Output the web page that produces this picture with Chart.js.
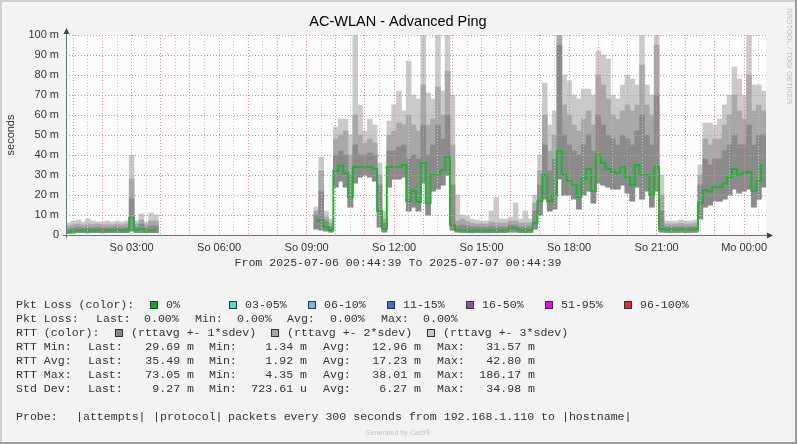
<!DOCTYPE html>
<html>
<head>
<meta charset="utf-8">
<script src="https://cdn.jsdelivr.net/npm/chart.js@4/dist/chart.umd.min.js"></script>
<style>
html,body{margin:0;padding:0;background:#f3f3f3}
canvas{display:block}
</style>
</head>
<body>
<canvas id="ping" width="797" height="444"></canvas>
<script>
// 10 minute samples, 00:50 (So) .. 00:40 (Mo), values in milliseconds
const NA = null
const rttAvg = [1.5,2.2,2.3,2.3,2.4,2.3,2.4,2.3,2.4,2.3,2.5,2.3,2.4,8.5,2.5,3.0,2.3,2.3,2.4,
  NA,NA,NA,NA,NA,NA,NA,NA,NA,NA,NA,NA,NA,NA,NA,NA,NA,NA,NA,NA,NA,NA,NA,NA,NA,NA,NA,NA,NA,NA,NA,NA,
  7,7.5,4,2.5,32,34.7,31,19,34,34,
  34,34,33,12,3,34,34,34,35,17,
  22,16.5,36,16,30,30,32.5,39,5,2.5,
  2.3,2.2,2.0,2.2,2.3,2.1,2.4,2.3,2.2,2.3,
  3.5,3.2,2.4,2.3,2.4,6,17,30,17,20,
  42,30,27,25,19,28,33,22,40,36,
  33,31.7,31,34,29,25,35,30,30,20,
  34,3,2.6,2.7,2.6,2.8,2.6,2.7,2.8,16,
  22.5,21.7,24,24,25.8,29,33,30,31,31.5,
  22,27,35]
const rttLow = [0.8,1.0,1.2,1.2,1.1,1.2,1.2,1.1,1.2,1.2,1.3,1.2,1.2,2.0,1.2,1.3,1.2,1.2,1.2,
  NA,NA,NA,NA,NA,NA,NA,NA,NA,NA,NA,NA,NA,NA,NA,NA,NA,NA,NA,NA,NA,NA,NA,NA,NA,NA,NA,NA,NA,NA,NA,NA,
  3,2.5,2,1.5,24,27,24,14,26,29,
  30,29,27,4,1.5,24,28,28,29,12,
  14,12,26,10,22,23,25,30,2.5,1.5,
  1.2,1.2,1.1,1.2,1.2,1.1,1.2,1.2,1.2,1.2,
  1.5,1.5,1.2,1.2,1.2,3,10,18,12,13,
  28,20,20,18,13,20,22,16,26,25,
  24,23,23,25,21,17,24,18,22,14,
  22,1.5,1.3,1.3,1.3,1.4,1.3,1.3,1.4,8,
  14,15,17,17,18,20,23,21,22,23,
  14,18,24]
const sdev1High = [3.0,3.5,3.8,3.6,3.8,3.6,3.8,3.5,3.6,3.7,3.8,3.6,3.8,18,4.0,5.5,4.0,4.5,4.5,
  NA,NA,NA,NA,NA,NA,NA,NA,NA,NA,NA,NA,NA,NA,NA,NA,NA,NA,NA,NA,NA,NA,NA,NA,NA,NA,NA,NA,NA,NA,NA,NA,
  10,22,7,4,40,42,40,30,45,40,
  40,41,40,25,6,42,42,44,45,38,
  40,38,55,40,45,55,48,60,25,4.5,
  5,4.5,4,4,4,3.8,4.5,4,4,4,
  5,5,4,4,4,12,25,45,32,38,
  95,50,45,42,40,45,50,42,60,55,
  50,48,45,50,48,45,52,60,50,45,
  70,12,4,4,4,4.2,4,4,4.2,25,
  38,35,38,38,42,45,50,45,45,55,
  45,50,50]
const sdev2High = [4.5,5.0,5.5,5.0,5.5,5.2,5.5,5.0,5.2,5.0,5.5,5.0,5.5,28,5.5,7.5,5.5,7,7,
  NA,NA,NA,NA,NA,NA,NA,NA,NA,NA,NA,NA,NA,NA,NA,NA,NA,NA,NA,NA,NA,NA,NA,NA,NA,NA,NA,NA,NA,NA,NA,NA,
  12,32,9,6,48,50,52,40,60,50,
  46,48,46,30,8,50,52,56,55,60,
  55,52,75,55,58,74,60,82,45,7,
  8,7,6,5.5,5.5,5.5,6.5,6,6,6,
  7,7,6,6,6,16,32,60,42,50,
  100,65,60,55,52,58,62,55,80,75,
  68,60,58,62,65,62,65,85,65,60,
  95,20,5.5,5.5,5.5,5.8,5.5,5.5,5.8,30,
  48,45,48,48,55,60,70,62,58,80,
  62,65,62]
const sdev3High = [6.0,7.0,7.5,6.5,8.0,7.0,6.5,6.5,7.0,6.5,7.0,6.5,7.0,40,7.0,10.5,6.5,11,10,
  NA,NA,NA,NA,NA,NA,NA,NA,NA,NA,NA,NA,NA,NA,NA,NA,NA,NA,NA,NA,NA,NA,NA,NA,NA,NA,NA,NA,NA,NA,NA,NA,
  14,39,12,8,54,58,58,50,100,65,
  52,58,55,36,12,57,65,72,62,87,
  70,68,100,71,68,100,72,100,70,20,
  10,9.5,8,7.5,7,7,12,19,8,8,
  9,16,8,12,8,20,40,76,55,62,
  100,80,77,70,68,73,73,70,92,90,
  88,70,68,75,80,78,75,100,75,70,
  100,30,7,7,7,7.5,7,7,7.5,35,
  56,56,55,58,65,70,84,78,70,100,
  75,75,72]

const tickTimes = ['03:00','06:00','09:00','12:00','15:00','18:00','21:00','00:00']
const tickTexts = ['So 03:00','So 06:00','So 09:00','So 12:00','So 15:00','So 18:00','So 21:00','Mo 00:00']

const lossLabels = ['0%','03-05%','06-10%','11-15%','16-50%','51-95%','96-100%']
const lossColors = ['#00b020','#50d8d0','#78b4f0','#4068e0','#9850a8','#ff00ff','#f02030']
const bandLabels = ['(rttavg +- 1*sdev)','(rttavg +- 2*sdev)','(rttavg +- 3*sdev)']
const bandColors = ['#8a8a8a','#a8a8a8','#cacaca']
const statRows = [
  ['RTT Min:','29.69 m','1.34 m','12.96 m','31.57 m'],
  ['RTT Avg:','35.49 m','1.92 m','17.23 m','42.80 m'],
  ['RTT Max:','73.05 m','4.35 m','38.01 m','186.17 m'],
  ['Std Dev:','9.27 m','723.61 u','6.27 m','34.98 m']
]

// time labels for each sample
let times = []
for(let i = 0; i < rttAvg.length; i++){
    let m = 50 + i*10
    let h = Math.floor(m/60) % 24
    times.push(String(h).padStart(2,'0') + ':' + String(m%60).padStart(2,'0'))
}

function band(high){
    return rttLow.map((l, i) => l == null ? null : [l, high[i]])
}

const sans = '"Liberation Sans", Arial, sans-serif'
const mono = '"Liberation Mono", "DejaVu Sans Mono", monospace'

const decor = {
    id: 'decor',
    beforeDraw(chart){
        let c = chart.ctx, a = chart.chartArea
        c.save()
        c.fillStyle = '#f3f3f3'
        c.fillRect(0, 0, chart.width, chart.height)
        c.fillStyle = '#fcfcfc'
        c.fillRect(a.left, a.top, a.right - a.left, a.bottom - a.top)
        c.restore()
    },
    afterDraw(chart){
        let c = chart.ctx, a = chart.chartArea
        c.save()
        // axes with arrows
        c.strokeStyle = '#5c7c74'
        c.lineWidth = 1
        c.beginPath()
        c.moveTo(a.left + 0.5, a.bottom + 3)
        c.lineTo(a.left + 0.5, a.top - 5)
        c.moveTo(a.left - 3, a.bottom + 0.5)
        c.lineTo(a.right + 5, a.bottom + 0.5)
        c.stroke()
        c.fillStyle = '#2f4f48'
        c.beginPath()
        c.moveTo(a.left + 0.5, a.top - 7)
        c.lineTo(a.left - 2.5, a.top - 1)
        c.lineTo(a.left + 3.5, a.top - 1)
        c.closePath()
        c.fill()
        c.beginPath()
        c.moveTo(a.right + 7, a.bottom + 0.5)
        c.lineTo(a.right + 1, a.bottom - 2.5)
        c.lineTo(a.right + 1, a.bottom + 3.5)
        c.closePath()
        c.fill()

        // title
        c.fillStyle = '#000'
        c.font = '14.5px ' + sans
        c.textAlign = 'center'
        c.textBaseline = 'middle'
        c.fillText('AC-WLAN - Advanced Ping', 398, 22)

        // y title
        c.save()
        c.translate(11, 135)
        c.rotate(-Math.PI/2)
        c.fillStyle = '#333'
        c.font = '11px ' + sans
        c.fillText('seconds', 0, 0)
        c.restore()

        // watermark
        c.save()
        c.translate(789, 8)
        c.rotate(Math.PI/2)
        c.textAlign = 'left'
        c.fillStyle = '#bdbdbd'
        c.font = '7.6px ' + sans
        c.fillText('RRDTOOL / TOBI OETIKER', 0, 0)
        c.restore()

        c.fillStyle = '#333'
        c.font = '11.6px ' + mono
        c.fillText('From 2025-07-06 00:44:39 To 2025-07-07 00:44:39', 398, 263)

        // legend
        c.textAlign = 'left'
        let box = (x, y, col) => {
            c.fillStyle = col
            c.fillRect(x, y - 4, 8, 8)
            c.strokeStyle = '#2a3a34'
            c.strokeRect(x + 0.5, y - 3.5, 7, 7)
            c.fillStyle = '#333'
        }
        c.fillText('Pkt Loss (color):', 16, 305)
        let lossBox = [150, 229, 308, 387, 466, 545, 624]
        lossLabels.forEach((l, i) => {
            box(lossBox[i], 305, lossColors[i])
            c.fillText(l, lossBox[i] + 16, 305)
        })
        let y2 = 319
        c.fillText('Pkt Loss:', 16, y2)
        c.fillText('Last:', 96, y2)
        c.fillText('0.00%', 144, y2)
        c.fillText('Min:', 195, y2)
        c.fillText('0.00%', 237, y2)
        c.fillText('Avg:', 287, y2)
        c.fillText('0.00%', 330, y2)
        c.fillText('Max:', 381, y2)
        c.fillText('0.00%', 423, y2)

        c.fillText('RTT (color):', 16, 333)
        let bandBox = [115, 271, 427]
        bandLabels.forEach((l, i) => {
            box(bandBox[i], 333, bandColors[i])
            c.fillText(l, bandBox[i] + 16, 333)
        })

        statRows.forEach((r, k) => {
            let y = 347 + k*14
            c.textAlign = 'left'
            c.fillText(r[0], 16, y)
            c.fillText('Last:', 88, y)
            c.fillText('Min:', 209, y)
            c.fillText('Avg:', 323, y)
            c.fillText('Max:', 437, y)
            c.textAlign = 'right'
            c.fillText(r[1], 194, y)
            c.fillText(r[2], 307, y)
            c.fillText(r[3], 421, y)
            c.fillText(r[4], 535, y)
        })
        c.textAlign = 'left'
        c.fillText('Probe:', 16, 417)
        c.fillText('|attempts|', 76, 417)
        c.fillText('|protocol|', 153, 417)
        c.fillText('packets every 300 seconds from 192.168.1.110 to |hostname|', 228, 417)

        c.textAlign = 'center'
        c.fillStyle = '#c4c4c4'
        c.font = '7px ' + sans
        c.fillText('Generated by Cacti\u00ae', 398, 433)

        // frame
        c.fillStyle = '#cfcfcf'
        c.fillRect(0, 0, chart.width, 2)
        c.fillRect(0, 0, 2, chart.height)
        c.fillStyle = '#9c9c9c'
        c.fillRect(0, chart.height - 2, chart.width, 2)
        c.fillRect(chart.width - 2, 0, 2, chart.height)
        c.restore()
    }
}

const major = '#e08c8c'
const minor = '#c6c6c6'

new Chart(document.getElementById('ping'), {
    type: 'bar',
    data: {
        labels: times,
        datasets: [
            {type: 'line', data: rttAvg, borderColor: '#1cb52e', borderWidth: 2,
             pointRadius: 0, stepped: 'middle', order: 0},
            {data: band(sdev1High), backgroundColor: bandColors[0], order: 1},
            {data: band(sdev2High), backgroundColor: bandColors[1], order: 2},
            {data: band(sdev3High), backgroundColor: bandColors[2], order: 3}
        ]
    },
    options: {
        responsive: false,
        animation: false,
        devicePixelRatio: 1,
        layout: {padding: {top: 35, right: 31, left: 0, bottom: 0}},
        datasets: {bar: {grouped: false, barPercentage: 1, categoryPercentage: 1, borderWidth: 0}},
        plugins: {legend: {display: false}, tooltip: {enabled: false}},
        scales: {
            x: {
                afterFit(scale){ scale.height = 209 },
                grid: {
                    z: 1, offset: false, drawTicks: false,
                    color: ctx => {
                        let t = times[ctx.index]
                        if(!t) return 'transparent'
                        let mm = t.slice(3)
                        return mm == '00' ? major : (mm == '30' ? minor : 'transparent')
                    }
                },
                border: {display: false, dash: [1, 2]},
                ticks: {
                    autoSkip: false, maxRotation: 0, padding: 6,
                    color: '#333', font: {family: sans, size: 11},
                    callback: (v, i) => {
                        let k = tickTimes.indexOf(times[i])
                        return k >= 0 ? tickTexts[k] : ''
                    }
                }
            },
            y: {
                min: 0, max: 100,
                afterFit(scale){ scale.width = 66 },
                grid: {
                    z: 1, drawTicks: false,
                    color: ctx => (ctx.tick && ctx.tick.value % 10 == 0) ? major : minor
                },
                border: {display: false, dash: [1, 2]},
                ticks: {
                    stepSize: 5, padding: 7,
                    color: '#333', font: {family: sans, size: 11},
                    callback: v => v % 10 != 0 ? '' : (v == 0 ? '0' : v + ' m')
                }
            }
        }
    },
    plugins: [decor]
})
</script>
</body>
</html>
